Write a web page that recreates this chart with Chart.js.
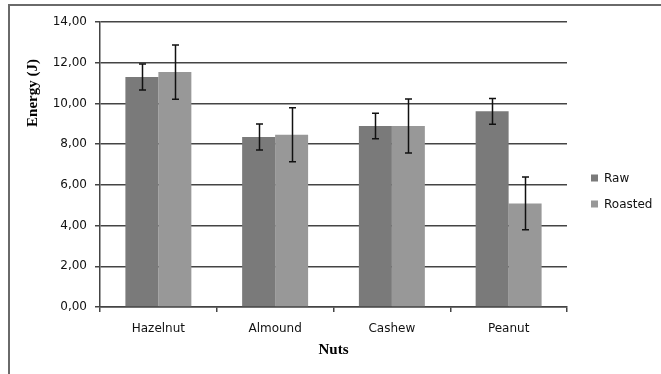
<!DOCTYPE html>
<html>
<head>
<meta charset="utf-8">
<script src="https://cdn.jsdelivr.net/npm/chart.js@4/dist/chart.umd.min.js"></script>
<style>
  html, body { margin: 0; padding: 0; background: #fff; }
  #wrap { position: relative; width: 661px; height: 374px; overflow: hidden; }
  #frame { position: absolute; left: 8px; top: 4px; width: 700px; height: 400px;
           border-left: 2px solid #6a6a6a; border-top: 2px solid #6a6a6a; }
  canvas { position: absolute; left: 0; top: 0; }
</style>
</head>
<body>
<div id="wrap">
  <div id="frame"></div>
  <canvas id="nutChart" width="661" height="374"></canvas>
</div>
<script>
// Chart data
const categories = ['Hazelnut', 'Almound', 'Cashew', 'Peanut'];
const rawValues = [11.30, 8.35, 8.89, 9.61];
const roastedValues = [11.54, 8.46, 8.89, 5.09];
const rawErrors = [0.64, 0.64, 0.63, 0.63];
const roastedErrors = [1.33, 1.33, 1.33, 1.30];
const yTicks = [0, 2, 4, 6, 8, 10, 12, 14];

const seriesNames = ['Raw', 'Roasted'];
const seriesColors = ['#7a7a7a', '#989898'];

// Error bars drawn from the data through the y scale
const errorBarPlugin = {
  id: 'errorBars',
  afterDatasetsDraw(chart) {
    const ctx = chart.ctx;
    const yScale = chart.scales.y;
    ctx.save();
    ctx.strokeStyle = '#111';
    ctx.lineWidth = 1.5;
    chart.data.datasets.forEach(function(ds, i) {
      const meta = chart.getDatasetMeta(i);
      meta.data.forEach(function(bar, j) {
        const v = ds.data[j];
        const e = ds.errors[j];
        const yTop = yScale.getPixelForValue(v + e);
        const yBot = yScale.getPixelForValue(v - e);
        const x = Math.round(bar.x) + 0.5;
        ctx.beginPath();
        ctx.moveTo(x, yTop);
        ctx.lineTo(x, yBot);
        ctx.moveTo(x - 3.5, yTop);
        ctx.lineTo(x + 3.5, yTop);
        ctx.moveTo(x - 3.5, yBot);
        ctx.lineTo(x + 3.5, yBot);
        ctx.stroke();
      });
    });
    ctx.restore();
  }
};

// Y axis title and legend, placed like the original
const decorPlugin = {
  id: 'decor',
  afterDraw(chart) {
    const ctx = chart.ctx;
    ctx.save();
    ctx.fillStyle = '#000';
    ctx.font = 'bold 15px "Liberation Serif"';
    ctx.textAlign = 'center';
    ctx.textBaseline = 'middle';
    ctx.translate(33, 93);
    ctx.rotate(-Math.PI / 2);
    ctx.fillText('Energy (J)', 0, 0);
    ctx.restore();

    ctx.save();
    ctx.font = '12px "DejaVu Sans"';
    ctx.textAlign = 'left';
    ctx.textBaseline = 'middle';
    chart.data.datasets.forEach(function(ds, i) {
      const y = 178 + i * 26;
      ctx.fillStyle = ds.backgroundColor;
      ctx.fillRect(591, y - 3.5, 7, 7);
      ctx.fillStyle = '#111';
      ctx.fillText(ds.label, 604, y + 0.5);
    });
    ctx.restore();
  }
};

const ctx = document.getElementById('nutChart').getContext('2d');
const nutChart = new Chart(ctx, {
  type: 'bar',
  data: {
    labels: categories,
    datasets: [{
      label: seriesNames[0],
      data: rawValues,
      errors: rawErrors,
      backgroundColor: seriesColors[0],
      borderWidth: 0
    }, {
      label: seriesNames[1],
      data: roastedValues,
      errors: roastedErrors,
      backgroundColor: seriesColors[1],
      borderWidth: 0
    }]
  },
  options: {
    responsive: false,
    animation: false,
    categoryPercentage: 0.565,
    barPercentage: 1.0,
    layout: {
      padding: { top: 22, right: 94, bottom: 0, left: 0 }
    },
    scales: {
      x: {
        grid: {
          display: true,
          drawOnChartArea: false,
          drawTicks: true,
          tickLength: 5,
          color: '#444',
          lineWidth: 1.5,
          offset: true
        },
        border: { display: true, color: '#444', width: 1.5 },
        ticks: {
          color: '#111',
          padding: 10,
          font: { family: 'DejaVu Sans', size: 12 }
        },
        title: {
          display: true,
          text: 'Nuts',
          color: '#000',
          font: { family: 'Liberation Serif', size: 15, weight: 'bold' },
          padding: { top: 0, bottom: 15 }
        },
        afterFit: function(scale) { scale.height = 67; }
      },
      y: {
        min: 0,
        max: 14,
        afterBuildTicks: function(scale) {
          scale.ticks = yTicks.map(function(v) { return { value: v }; });
        },
        grid: {
          color: '#444',
          lineWidth: 1.5,
          tickLength: 5
        },
        border: { display: true, color: '#444', width: 1.5 },
        ticks: {
          color: '#111',
          padding: 8,
          font: { family: 'DejaVu Sans', size: 12 },
          callback: function(v) { return v.toFixed(2).replace('.', ','); }
        },
        afterFit: function(scale) { scale.width = 100; }
      }
    },
    plugins: {
      legend: { display: false },
      tooltip: { enabled: false }
    }
  },
  plugins: [errorBarPlugin, decorPlugin]
});
</script>
</body>
</html>
